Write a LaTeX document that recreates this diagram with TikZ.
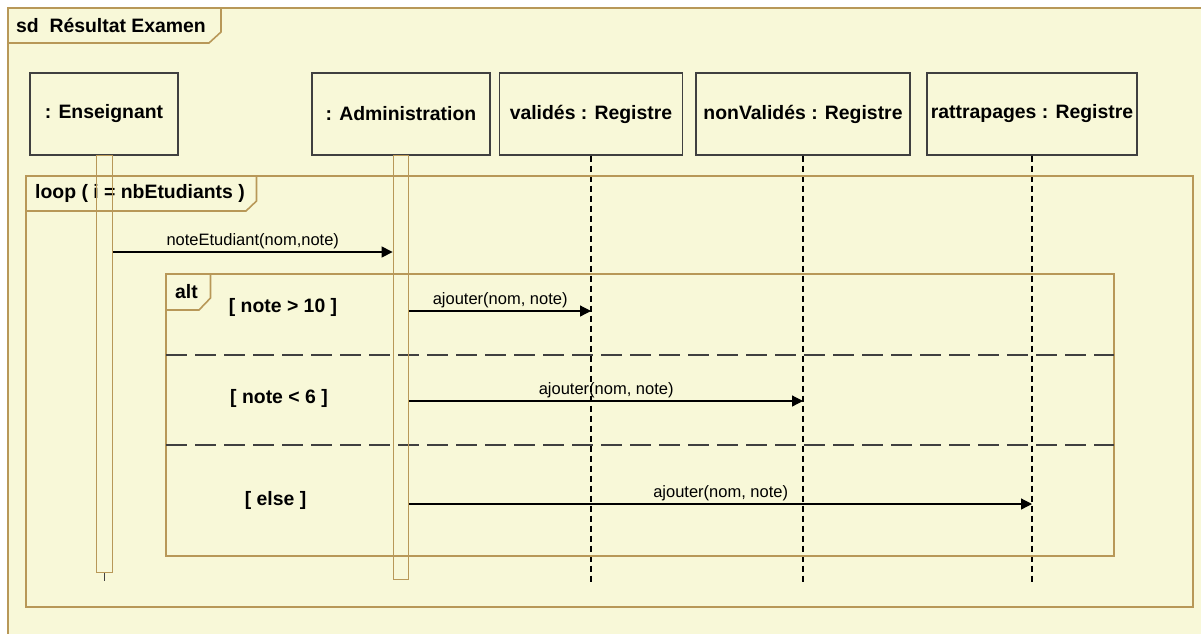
\documentclass[tikz,border=0pt]{standalone}
\usepackage{fontspec}
\setmainfont{Liberation Sans}
\usetikzlibrary{arrows.meta}

\definecolor{fundo}{RGB}{248,248,216}
\definecolor{moldura}{RGB}{184,152,88}
\definecolor{contorno}{RGB}{64,64,64}

\begin{document}
\begin{tikzpicture}[x=1pt, y=-1pt,
    obj/.style={draw=contorno, line width=1.3pt, minimum height=82pt, inner sep=0pt,
        font=\fontsize{19.4}{22}\selectfont\bfseries},
    barra/.style={draw=moldura, line width=1.3pt, minimum width=15.5pt, inner sep=0pt},
    vida/.style={black, line width=1.5pt, dash pattern=on 6pt off 4pt},
    quadro/.style={draw=moldura, line width=1.6pt},
    rotulo/.style={font=\fontsize{19.4}{22}\selectfont\bfseries, inner sep=0pt},
    guarda/.style={font=\fontsize{19.4}{22}\selectfont\bfseries, inner sep=0pt},
    separa/.style={contorno, line width=1.6pt, dash pattern=on 21pt off 8pt},
    msg/.style={black, line width=1.2pt, -{Triangle[length=11pt, width=11pt]}},
    txtmsg/.style={font=\fontsize{16.5}{18}\selectfont, above, inner sep=2pt}]

\clip (0,0) rectangle (1201,633);
\fill[white] (0,0) rectangle (1201,633);

% sd Resultat Examen
\filldraw[quadro, fill=fundo] (8,8) rectangle (1230,660);
\draw[quadro] (8,43) -- (209,43) -- (221,32) -- (221,8);
\node[rotulo, anchor=west] (sd) at (16,25) {sd\hspace{0.55em}Résultat Examen};

% objets
\foreach \nome/\x/\w/\txt in {ens/104/148/{: Enseignant},
                              adm/401/178/{: Administration},
                              val/591/183/{validés : Registre},
                              nval/803/214/{nonValidés : Registre},
                              ratt/1032/210/{rattrapages : Registre}} {
    \node[obj, minimum width=\w pt] (\nome) at (\x,114) {\txt};
}

% lignes de vie
\foreach \nome in {val, nval, ratt} {
    \coordinate (\nome-fim) at (\nome.south |- 0,583);
    \draw[vida] (\nome.south) -- (\nome-fim);
}

% loop ( i = nbEtudiants )
\draw[quadro] (26,176) rectangle (1193,607);
\draw[quadro] (26,211) -- (246,211) -- (256.5,201) -- (256.5,176);
\node[rotulo, anchor=west] (loop) at (35,193) {loop ( i = nbEtudiants )};

% alt
\draw[quadro] (166,274) rectangle (1114,556);
\draw[quadro] (166,310) -- (199,310) -- (210.5,298) -- (210.5,274);
\node[rotulo, anchor=west] (alt) at (175,292) {alt};
\foreach \y in {355,445} {
    \draw[separa] (166,\y) -- (1114,\y);
}
\node[guarda] (g1) at (283,307) {[ note > 10 ]};
\node[guarda] (g2) at (279,398) {[ note < 6 ]};
\node[guarda] (g3) at (275.5,500) {[ else ]};

% activations
\node[barra, minimum height=417pt, anchor=north] (barE) at (104.5,155) {};
\node[barra, minimum height=424pt, anchor=north] (barA) at (401,155) {};
\coordinate (barE-fim) at (barE.south |- 0,581);
\draw[contorno, line width=1.5pt] (barE.south) -- (barE-fim);

% messages
\foreach \nome/\y in {m1/252, m2/311, m3/401, m4/504} {
    \coordinate (\nome) at (0,\y);
}
\draw[msg] (barE.east |- m1) -- node[txtmsg] {noteEtudiant(nom,note)} (barA.west |- m1);
\draw[msg] (barA.east |- m2) -- node[txtmsg] {ajouter(nom, note)} (val.south |- m2);
\draw[msg] (barA.east |- m3) -- node[txtmsg] {ajouter(nom, note)} (nval.south |- m3);
\draw[msg] (barA.east |- m4) -- node[txtmsg] {ajouter(nom, note)} (ratt.south |- m4);
\end{tikzpicture}
\end{document}
